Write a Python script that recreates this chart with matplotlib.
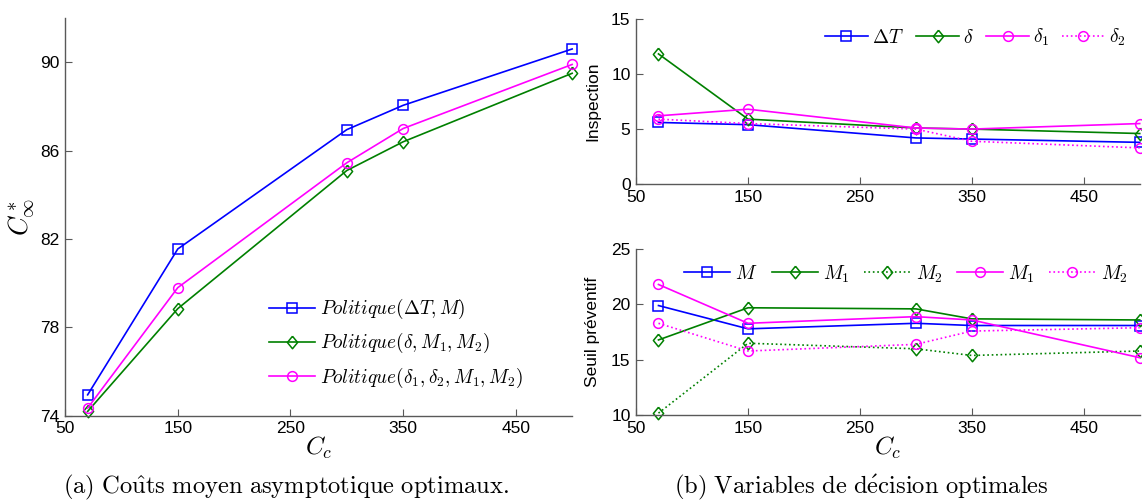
import matplotlib.pyplot as plt

plt.rcParams['mathtext.fontset'] = 'cm'
plt.rcParams['font.family'] = ['Liberation Sans', 'DejaVu Sans']

# Data
cc = [70, 150, 300, 350, 500]

# (a) optimal asymptotic cost
cost_dT_M = [74.95, 81.55, 86.95, 88.05, 90.6]
cost_d_M1_M2 = [74.2, 78.85, 85.1, 86.4, 89.5]
cost_d1_d2_M1_M2 = [74.35, 79.8, 85.45, 87.0, 89.9]

# (b) inspection variables
insp_dT = [5.6, 5.4, 4.2, 4.1, 3.8]
insp_d = [11.8, 5.9, 5.1, 5.0, 4.6]
insp_d1 = [6.2, 6.8, 5.1, 5.0, 5.5]
insp_d2 = [5.9, 5.5, 5.0, 3.9, 3.3]

# (b) preventive thresholds
seuil_M = [19.9, 17.8, 18.3, 18.1, 18.1]
seuil_M1_g = [16.8, 19.7, 19.6, 18.7, 18.6]
seuil_M2_g = [10.2, 16.5, 16.0, 15.4, 15.8]
seuil_M1_m = [21.8, 18.3, 18.9, 18.6, 15.2]
seuil_M2_m = [18.3, 15.8, 16.4, 17.6, 17.9]

xticks = [50, 150, 250, 350, 450]

blue = (0, 0, 1)
green = (0, 0.5, 0)
mag = (1, 0, 1)
# matlab-like diamond
diam = [(0, 1), (0.82, 0), (0, -1), (-0.82, 0), (0, 1)]

fig = plt.figure(figsize=(11.42, 5.01), dpi=100)


def style(ax, ylim, yticks):
    ax.set_xlim(50, 500)
    ax.set_ylim(*ylim)
    ax.set_xticks(xticks)
    ax.set_yticks(yticks)
    ax.spines['top'].set_visible(False)
    ax.spines['right'].set_visible(False)
    for s in ('left', 'bottom'):
        ax.spines[s].set_color('0.35')
        ax.spines[s].set_linewidth(1.0)
    ax.tick_params(direction='in', length=5, color='0.35', labelsize=12.5, pad=4)


mk = dict(markerfacecolor='none', markersize=7, markeredgewidth=1.1, linewidth=1.2, clip_on=False)
mkd = dict(mk, marker=diam, markersize=9)

# (a)
ax1 = fig.add_axes([0.057, 0.17, 0.444, 0.794])
ax1.plot(cc, cost_dT_M, '-s', color=blue, label=r'$Politique(\Delta T,M)$', **mk)
ax1.plot(cc, cost_d_M1_M2, '-', color=green, label=r'$Politique(\delta,M_1,M_2)$', **mkd)
ax1.plot(cc, cost_d1_d2_M1_M2, '-o', color=mag, label=r'$Politique(\delta_1,\delta_2,M_1,M_2)$', **mk)
style(ax1, (74, 92), [74, 78, 82, 86, 90])
ax1.set_ylabel(r'$C^*_\infty$', fontsize=19, labelpad=2)
ax1.set_xlabel(r'$C_c$', fontsize=18, labelpad=-1)
ax1.legend(loc='lower left', bbox_to_anchor=(0.402, 0.066), frameon=False, fontsize=13.8,
           borderpad=0, borderaxespad=0,
           handlelength=2.4, labelspacing=0.52, handletextpad=0.26)

# (b) top
ax2 = fig.add_axes([0.557, 0.632, 0.441, 0.331])
ax2.plot(cc, insp_dT, '-s', color=blue, label=r'$\Delta T$', **mk)
ax2.plot(cc, insp_d, '-', color=green, label=r'$\delta$', **mkd)
ax2.plot(cc, insp_d1, '-o', color=mag, label=r'$\delta_1$', **mk)
ax2.plot(cc, insp_d2, ':o', color=mag, label=r'$\delta_2$', **mk)
style(ax2, (0, 15), [0, 5, 10, 15])
ax2.set_ylabel('Inspection', fontsize=12.5, labelpad=8)
ax2.legend(loc='center left', bbox_to_anchor=(0.375, 0.887), ncol=4, frameon=False, fontsize=14,
           borderpad=0, borderaxespad=0,
           handlelength=2.2, handletextpad=0.2, columnspacing=0.65)

# (b) bottom
ax3 = fig.add_axes([0.557, 0.171, 0.441, 0.332])
ax3.plot(cc, seuil_M, '-s', color=blue, label=r'$M$', **mk)
ax3.plot(cc, seuil_M1_g, '-', color=green, label=r'$M_1$', **mkd)
ax3.plot(cc, seuil_M2_g, ':', color=green, label=r'$M_2$', **mkd)
ax3.plot(cc, seuil_M1_m, '-o', color=mag, label=r'$M_1$', **mk)
ax3.plot(cc, seuil_M2_m, ':o', color=mag, label=r'$M_2$', **mk)
style(ax3, (10, 25), [10, 15, 20, 25])
ax3.set_ylabel('Seuil préventif', fontsize=12.5, labelpad=8)
ax3.set_xlabel(r'$C_c$', fontsize=18, labelpad=-1)
ax3.legend(loc='center left', bbox_to_anchor=(0.095, 0.85), ncol=5, frameon=False, fontsize=14,
           borderpad=0, borderaxespad=0,
           handlelength=2.37, handletextpad=0.26, columnspacing=0.75)

fig.text(0.2505, 0.026, r'$\mathrm{(a)\ Co\hat{u}ts\ moyen\ asymptotique\ optimaux.}$',
         ha='center', va='center', fontsize=17.7)
fig.text(0.754, 0.026, r'$\mathrm{(b)\ Variables\ de\ d\acute{e}cision\ optimales}$',
         ha='center', va='center', fontsize=17.7)

fig.savefig('out.png', dpi=100)
